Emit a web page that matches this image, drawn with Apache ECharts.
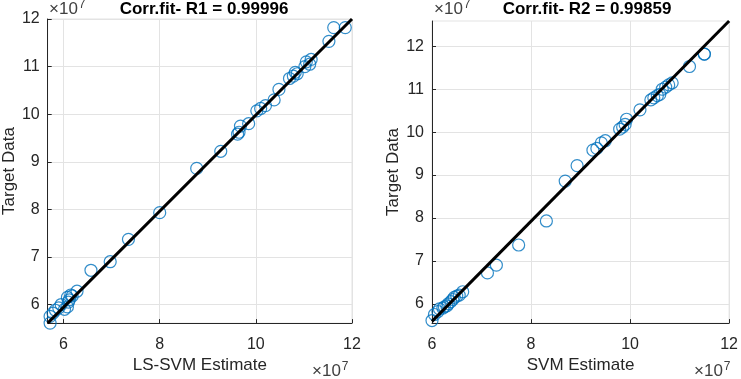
<!DOCTYPE html>
<html>
<head>
<meta charset="utf-8">
<script src="https://cdn.jsdelivr.net/npm/echarts@6/dist/echarts.min.js"></script>
<style>
html,body{margin:0;padding:0;background:#fff;}
#main{width:741px;height:379px;}
</style>
</head>
<body>
<div id="main"></div>
<script>
// values in units of 1e7
const targetData = [5.61,5.75,5.82,5.88,5.90,5.93,5.95,6.00,6.05,6.10,6.15,6.18,6.20,6.28,
  6.72,6.90,7.37,7.93,8.86,9.22,9.58,9.62,9.75,9.80,10.07,10.12,10.18,10.30,10.52,
  10.75,10.80,10.85,10.88,11.00,11.05,11.10,11.15,11.53,11.82,11.82];
const lsSvmEst = [5.72,5.72,5.78,5.83,6.02,5.90,6.08,5.95,6.10,6.12,6.08,6.18,6.15,6.28,
  6.57,6.97,7.35,8.00,8.77,9.27,9.62,9.65,9.68,9.85,10.02,10.10,10.20,10.38,10.48,
  10.70,10.78,10.86,10.82,11.02,11.12,11.05,11.15,11.52,11.62,11.86];
const svmEst = [6.00,6.05,6.12,6.15,6.22,6.25,6.30,6.33,6.38,6.42,6.45,6.50,6.55,6.62,
  7.12,7.30,7.75,8.31,8.69,8.93,9.25,9.33,9.42,9.50,9.79,9.85,9.90,9.93,10.20,
  10.42,10.48,10.55,10.60,10.65,10.72,10.78,10.85,11.20,11.50,11.50];
// fitted lines (endpoints)
const fitLine1 = [[5.67,5.61],[12,12]];
const fitLine2 = [[6,5.59],[12,12.59]];
const xTicks = [6,8,10,12];
const yTicks = [6,7,8,9,10,11,12];

const chart = echarts.init(document.getElementById('main'));
const font = 'Liberation Sans, Arial, sans-serif';
const dark = '#262626';

function pairs(xs, ys){ return xs.map((x,i) => [x, ys[i]]); }

function xAxisCfg(idx, name, min, max){
  return {
    type:'value', gridIndex: idx, min: min, max: max,
    name: name, nameLocation:'middle', nameGap: 32,
    nameTextStyle:{color:dark, fontSize:17, fontFamily:font},
    axisLine:{show:true, onZero:false, lineStyle:{color:dark, width:1}},
    axisTick:{show:true, inside:true, length:4, customValues: xTicks, lineStyle:{color:dark}},
    axisLabel:{customValues: xTicks, color:dark, fontSize:16, fontFamily:font, margin:13},
    splitLine:{show:true, lineStyle:{color:'#e3e3e3', width:1}}
  };
}
function yAxisCfg(idx, min, max){
  return {
    type:'value', gridIndex: idx, min: min, max: max,
    name:'Target Data', nameLocation:'middle', nameGap: 26,
    nameTextStyle:{color:dark, fontSize:17, fontFamily:font},
    axisLine:{show:true, onZero:false, lineStyle:{color:dark, width:1}},
    axisTick:{show:true, inside:true, length:4, customValues: yTicks, lineStyle:{color:dark}},
    axisLabel:{customValues: yTicks, color:dark, fontSize:16, fontFamily:font, margin:8},
    splitLine:{show:true, lineStyle:{color:'#e3e3e3', width:1}}
  };
}

const circleStyle = {color:'rgba(0,0,0,0)', borderColor:'#0072BD', borderWidth:1.2};

function expText(x, y){
  return {type:'text', left:x, top:y, style:{text:'×10{s|7}', fill:'#404040',
    fontSize:17, fontFamily:font,
    rich:{s:{fontSize:12, fontFamily:font, fill:'#404040', verticalAlign:'top', padding:[0,0,9,1]}}}};
}

chart.setOption({
  animation:false,
  title:[
    {text:'Corr.fit- R1 = 0.99996', left:199, top:-4, textAlign:'center',
     textStyle:{fontSize:17, fontWeight:'bold', color:'#000', fontFamily:font}},
    {text:'Corr.fit- R2 = 0.99859', left:582, top:-4, textAlign:'center',
     textStyle:{fontSize:17, fontWeight:'bold', color:'#000', fontFamily:font}}
  ],
  grid:[
    {left:46, top:19, width:306, height:313, show:true, borderColor:'#e3e3e3', borderWidth:1},
    {left:432, top:21, width:301, height:311, show:true, borderColor:'#e3e3e3', borderWidth:1}
  ],
  xAxis:[
    xAxisCfg(0, 'LS-SVM Estimate', 5.67, 12),
    xAxisCfg(1, 'SVM Estimate', 6, 12)
  ],
  yAxis:[
    yAxisCfg(0, 5.61, 12),
    yAxisCfg(1, 5.55, 12.59)
  ],
  graphic:[
    expText(49, -1),
    expText(434, -1),
    expText(312, 361),
    expText(694, 361)
  ],
  series:[
    {type:'scatter', xAxisIndex:0, yAxisIndex:0, symbol:'circle', symbolSize:12,
     data: pairs(lsSvmEst, targetData), itemStyle: circleStyle, z:2},
    {type:'line', xAxisIndex:0, yAxisIndex:0, data: fitLine1, showSymbol:false,
     lineStyle:{color:'#000', width:3}, z:3},
    {type:'scatter', xAxisIndex:1, yAxisIndex:1, symbol:'circle', symbolSize:12,
     data: pairs(svmEst, targetData), itemStyle: circleStyle, z:2},
    {type:'line', xAxisIndex:1, yAxisIndex:1, data: fitLine2, showSymbol:false,
     lineStyle:{color:'#000', width:3}, z:3}
  ]
});
</script>
</body>
</html>
